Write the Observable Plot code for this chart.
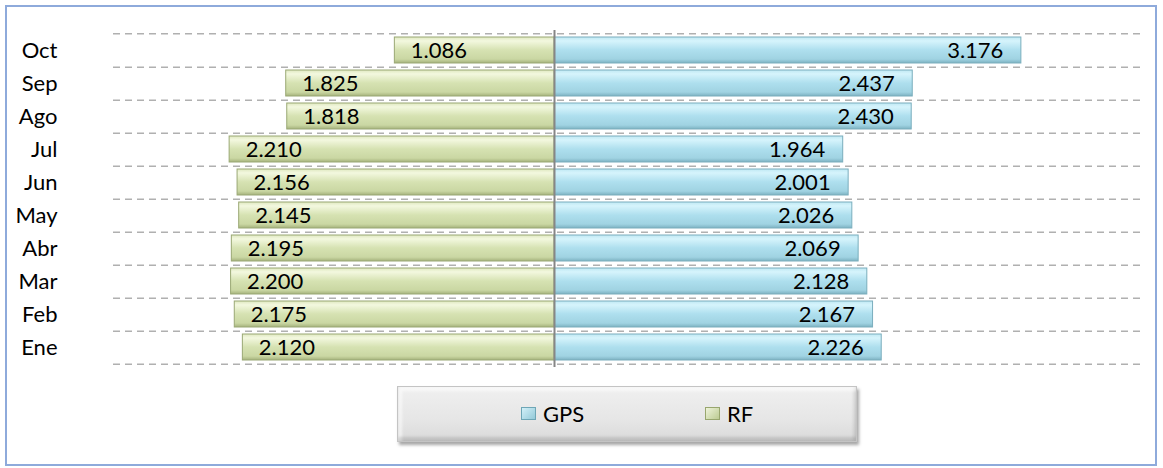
<!DOCTYPE html>
<html>
<head>
<meta charset="utf-8">
<script src="https://cdn.jsdelivr.net/npm/d3@7"></script>
<script src="https://cdn.jsdelivr.net/npm/@observablehq/plot@0.6"></script>
<style>
  html, body { margin: 0; padding: 0; background: #fff; }
  body { width: 1163px; height: 468px; position: relative; overflow: hidden; font-family: Lato, "Open Sans", sans-serif; }
  #frame { position: absolute; left: 5px; top: 5px; width: 1152px; height: 461px; box-sizing: border-box; border: 2px solid #8eaadb; pointer-events: none; }
  #chart { position: absolute; left: 0; top: 0; }
  #legend { position: absolute; left: 397px; top: 386px; width: 460px; height: 56px; box-sizing: border-box;
    background: linear-gradient(#f0f0f0, #e6e6e6 60%, #dadada);
    border: 1px solid #c4c4c4; box-shadow: 2px 3px 3px rgba(0,0,0,0.35), inset 0 -4px 3px rgba(0,0,0,0.12), inset 4px 4px 3px rgba(255,255,255,0.6), inset -3px 0 3px rgba(0,0,0,0.08);
    font-size: 22px; color: #000; }
  .item { position: absolute; top: 13px; display: flex; align-items: center; }
  .sw { width: 15px; height: 13px; margin-right: 7px; box-sizing: border-box; }
</style>
</head>
<body>
<div id="chart"></div>
<div id="legend">
  <div class="item" style="left:123px"><div class="sw" style="background:linear-gradient(135deg,#d2f0f8,#93c9d8);border:1px solid #6ea6b6"></div><span>GPS</span></div>
  <div class="item" style="left:307px"><div class="sw" style="background:linear-gradient(135deg,#eef3da,#bccb92);border:1px solid #98a66e"></div><span>RF</span></div>
</div>
<div id="frame"></div>
<script>
const months = ["Oct", "Sep", "Ago", "Jul", "Jun", "May", "Abr", "Mar", "Feb", "Ene"];
const gps = [3.176, 2.437, 2.430, 1.964, 2.001, 2.026, 2.069, 2.128, 2.167, 2.226];
const rf  = [1.086, 1.825, 1.818, 2.210, 2.156, 2.145, 2.195, 2.200, 2.175, 2.120];
const seriesNames = ["GPS", "RF"];

const rows = [];
months.forEach((m, i) => {
  rows.push({month: m, series: seriesNames[0], value: gps[i], x1: 0, x2: gps[i]});
  rows.push({month: m, series: seriesNames[1], value: rf[i], x1: -rf[i], x2: 0});
});
const fmt = v => v.toFixed(3);

const H = 380, mt = 30, mb = 13;
const step = (H - mt - mb) / months.length;

const plot = Plot.plot({
  width: 1163,
  height: H,
  marginTop: mt,
  marginBottom: mb,
  marginLeft: 113,
  marginRight: 21,
  style: {fontFamily: "Lato, 'Open Sans', sans-serif", fontSize: "22px", color: "#000", background: "transparent"},
  x: {domain: [-3, 4], axis: null},
  y: {domain: months, paddingInner: 0.2, paddingOuter: 0.1, label: null},
  marks: [
    Plot.ruleY(months, {y: d => d, dy: step / 2, stroke: "#b0b0b0", strokeWidth: 1.5, strokeDasharray: "7,5"}),
    Plot.ruleY([months[0]], {y: d => d, dy: -step / 2, stroke: "#b0b0b0", strokeWidth: 1.5, strokeDasharray: "7,5"}),
    Plot.barX(rows, {
      y: "month", x1: "x1", x2: "x2",
      fill: d => d.series === "GPS" ? "url(#gGPS)" : "url(#gRF)",
      stroke: d => d.series === "GPS" ? "#7aaebd" : "#9aa874",
      strokeWidth: 1
    }),
    Plot.ruleX([0], {stroke: "#868686", strokeWidth: 2}),
    Plot.text(rows.filter(d => d.series === "GPS"), {
      y: "month", x: "x2", text: d => fmt(d.value), textAnchor: "end", dx: -18, fill: "#000", fontSize: 22
    }),
    Plot.text(rows.filter(d => d.series === "RF"), {
      y: "month", x: "x1", text: d => fmt(d.value), textAnchor: "start", dx: 16, fill: "#000", fontSize: 22
    }),
    Plot.axisY({tickSize: 0, tickPadding: 56, fontSize: 22})
  ]
});

const ns = "http://www.w3.org/2000/svg";
const defs = document.createElementNS(ns, "defs");
defs.innerHTML = `
  <linearGradient id="gGPS" x1="0" y1="0" x2="0" y2="1">
    <stop offset="0" stop-color="#bfe8f3"/>
    <stop offset="0.15" stop-color="#d6f4fc"/>
    <stop offset="0.5" stop-color="#aedfee"/>
    <stop offset="0.85" stop-color="#a0d3e2"/>
    <stop offset="1" stop-color="#7db2c2"/>
  </linearGradient>
  <linearGradient id="gRF" x1="0" y1="0" x2="0" y2="1">
    <stop offset="0" stop-color="#dfe8c0"/>
    <stop offset="0.15" stop-color="#f3f8df"/>
    <stop offset="0.5" stop-color="#d6e2b2"/>
    <stop offset="0.85" stop-color="#cad7a3"/>
    <stop offset="1" stop-color="#a5b27c"/>
  </linearGradient>`;
plot.insertBefore(defs, plot.firstChild);
document.getElementById("chart").appendChild(plot);
</script>
</body>
</html>
